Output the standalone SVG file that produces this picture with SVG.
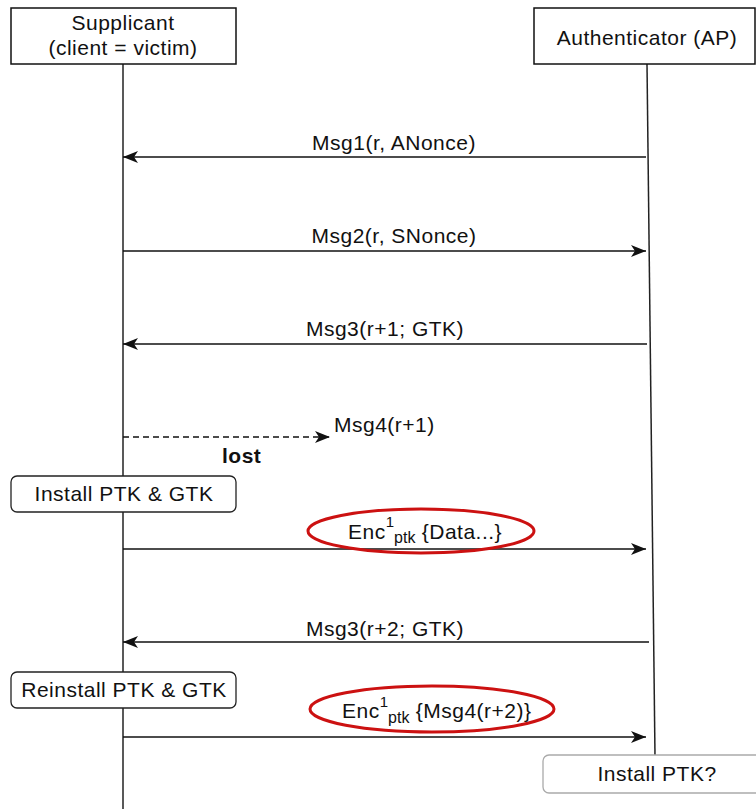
<svg xmlns="http://www.w3.org/2000/svg" width="756" height="809" viewBox="0 0 756 809">
  <style>
    text { font-family: "Liberation Sans", Arial, sans-serif; fill: #111; }
    .lbl { font-size: 21px; letter-spacing: 0.5px; }
    .mid { text-anchor: middle; }
    .box { fill: #fff; stroke: #111; stroke-width: 1.5; }
    .note { fill: #fff; stroke: #222; stroke-width: 1.3; }
    .note2 { fill: #fff; stroke: #aaa; stroke-width: 1.3; }
    .life { stroke: #222; stroke-width: 1.5; fill: none; }
    .msg { stroke: #111; stroke-width: 1.5; fill: none; marker-end: url(#arrow); }
    .dash { stroke-dasharray: 6 4; }
    .ring { fill: none; stroke: #cc1111; stroke-width: 3; }
    .sup { font-size: 15px; letter-spacing: 0; }
    .sub { font-size: 16px; letter-spacing: 0; }
  </style>
  <defs>
    <marker id="arrow" markerUnits="userSpaceOnUse" markerWidth="16" markerHeight="14" refX="15" refY="7" orient="auto">
      <path d="M0,1 L15,7 L0,13 L4,7 z" fill="#111"/>
    </marker>
  </defs>

  <rect width="756" height="809" fill="#fff"/>

  <!-- lifelines -->
  <g id="lifelines">
    <line class="life" x1="123" y1="64" x2="123" y2="809"/>
    <line class="life" x1="647" y1="64" x2="655" y2="756"/>
  </g>

  <!-- participants -->
  <g id="supplicant">
    <rect class="box" x="11" y="8" width="225" height="56"/>
    <text class="lbl mid" x="123" y="30">Supplicant</text>
    <text class="lbl mid" x="123" y="55">(client = victim)</text>
  </g>
  <g id="authenticator">
    <rect class="box" x="534" y="8" width="221" height="56"/>
    <text class="lbl mid" x="647" y="45">Authenticator (AP)</text>
  </g>

  <!-- messages -->
  <g id="connectors">
    <line class="msg" x1="646" y1="157" x2="123" y2="157"/>
    <line class="msg" x1="123" y1="251" x2="646" y2="251"/>
    <line class="msg" x1="647" y1="344" x2="123" y2="344"/>
    <line class="msg dash" x1="123" y1="437" x2="330" y2="437"/>
    <line class="msg" x1="123" y1="549" x2="646" y2="549"/>
    <line class="msg" x1="649" y1="642" x2="123" y2="642"/>
    <line class="msg" x1="123" y1="737" x2="646" y2="737"/>
  </g>

  <g id="labels">
    <text class="lbl mid" x="394" y="150">Msg1(r, ANonce)</text>
    <text class="lbl mid" x="394" y="243">Msg2(r, SNonce)</text>
    <text class="lbl mid" x="385" y="336">Msg3(r+1; GTK)</text>
    <text class="lbl" x="334" y="432">Msg4(r+1)</text>
    <text class="lbl" x="222" y="463" font-weight="bold">lost</text>
    <text class="lbl mid" x="385" y="636">Msg3(r+2; GTK)</text>
  </g>

  <!-- state notes -->
  <g id="install">
    <rect class="note" x="11" y="476" width="225" height="36" rx="6"/>
    <text class="lbl mid" x="124" y="501">Install PTK &amp; GTK</text>
  </g>
  <g id="reinstall">
    <rect class="note" x="11" y="672" width="225" height="36" rx="6"/>
    <text class="lbl mid" x="124" y="697">Reinstall PTK &amp; GTK</text>
  </g>
  <g id="install-ptk">
    <rect class="note2" x="543" y="755" width="220" height="38" rx="6"/>
    <text class="lbl mid" x="657" y="781">Install PTK?</text>
  </g>

  <!-- highlighted encrypted frames -->
  <g id="enc-data">
    <ellipse class="ring" cx="421" cy="531" rx="113" ry="22"/>
    <text class="lbl" x="348" y="539">Enc<tspan class="sup" dy="-12">1</tspan><tspan class="sub" dy="16">ptk</tspan><tspan dy="-4"> {Data...}</tspan></text>
  </g>
  <g id="enc-msg4">
    <ellipse class="ring" cx="432" cy="709" rx="122" ry="23"/>
    <text class="lbl" x="342" y="718">Enc<tspan class="sup" dy="-11">1</tspan><tspan class="sub" dy="16">ptk</tspan><tspan dy="-5"> {Msg4(r+2)}</tspan></text>
  </g>
</svg>
